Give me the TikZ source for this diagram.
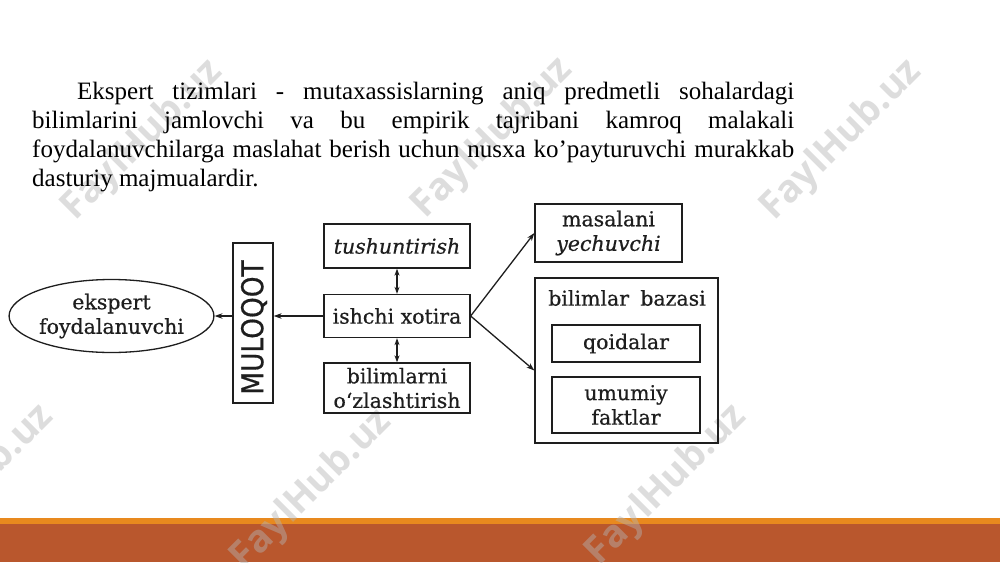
\documentclass[tikz,border=0pt]{standalone}
\usepackage{fontspec}
\setmainfont{Liberation Serif}
\newfontfamily\dgfont{DejaVu Serif}[FakeBold=0.6]
\newfontfamily\sgfont{DejaVu Sans}[FakeBold=0.6]
\newfontfamily\wmfont{Open Sans}
\usetikzlibrary{arrows.meta,shapes.geometric,calc}
\definecolor{barorange}{RGB}{232,137,30}
\definecolor{barrust}{RGB}{185,87,45}
\definecolor{ink}{RGB}{30,30,30}
\definecolor{wmgray}{RGB}{180,180,180}
\begin{document}
\begin{tikzpicture}[x=1pt,y=-1pt,
  dg/.style={font=\dgfont\fontsize{20.5}{24.5}\selectfont, text=ink},
  dgi/.style={font=\dgfont\itshape\fontsize{20.5}{24.5}\selectfont, text=ink},
  box/.style={draw=ink, line width=1.3pt, inner sep=0pt, align=center},
  arr/.style={draw=ink, line width=1.3pt, -{Stealth[length=8pt,width=5.5pt]}},
  darr/.style={draw=ink, line width=1.3pt, {Stealth[length=7pt,width=5pt]}-{Stealth[length=7pt,width=5pt]}},
  para/.style={anchor=base west, inner sep=0pt, font=\fontsize{25}{29}\selectfont, text=black},
  wm/.style={rotate=45, text=wmgray, opacity=0.45, font=\wmfont\bfseries\fontsize{38}{38}\selectfont, inner sep=0pt}]
\useasboundingbox (0,0) rectangle (1000,562);
\fill[white] (0,0) rectangle (1000,562);
% bottom bar
\fill[barorange] (0,518) rectangle (1000,524.5);
\fill[barrust] (0,524) rectangle (1000,562);
% watermarks
\node[wm] (wm1) at (143,140) {FaylHub.uz};
\node[wm] (wm2) at (493,138) {FaylHub.uz};
\node[wm] (wm3) at (842,140) {FaylHub.uz};
\node[wm] (wm4) at (-26,485) {FaylHub.uz};
\node[wm] (wm5) at (312,490) {FaylHub.uz};
\node[wm] (wm6) at (667,485) {FaylHub.uz};
% paragraph
\node[para] (p1) at (77,99.5) {\makebox[717pt][s]{Ekspert tizimlari - mutaxassislarning aniq predmetli sohalardagi}};
\node[para] (p2) at (32,128) {\makebox[762pt][s]{bilimlarini jamlovchi va bu empirik tajribani kamroq malakali}};
\node[para] (p3) at (32,157) {\makebox[762pt][s]{foydalanuvchilarga maslahat berish uchun nusxa ko’payturuvchi murakkab}};
\node[para] (p4) at (32,186) {dasturiy majmualardir.};
% diagram
\node[box, dg, shape=ellipse, minimum width=177pt, minimum height=73pt] (ell) at (111.5,316) {ekspert\\foydalanuvchi};
\node[box, minimum width=40pt, minimum height=160pt] (mul) at (253,323) {};
\node[rotate=90, inner sep=0pt, text=ink, font=\sgfont\fontsize{30}{30}\selectfont] (mult) at (254,327.5) {\scalebox{0.88}[1]{MULOQOT}};
\node[box, dgi, minimum width=146pt, minimum height=44pt] (tush) at (397,246) {tushuntirish};
\node[box, dg, minimum width=146pt, minimum height=43pt] (ish) at (397,316) {ishchi xotira};
\node[box, dg, minimum width=146pt, minimum height=50pt] (bil) at (397,388) {bilimlarni\\o‘zlashtirish};
\node[box, dg, minimum width=147pt, minimum height=58pt] (mas) at (608.5,233) {masalani\\\textit{yechuvchi}};
\node[box, minimum width=183pt, minimum height=165pt] (baz) at (626.5,360.5) {};
\node[dg, inner sep=0pt] (bazt) at (627,298) {bilimlar\hspace{0.55em}bazasi};
\node[box, dg, minimum width=148pt, minimum height=37pt] (qoi) at (626,343.5) {qoidalar};
\node[box, dg, minimum width=148pt, minimum height=56pt] (umu) at (626,405) {umumiy\\faktlar};
% connectors
\draw[arr] (ish.west) -- (ish.west -| mul.east);
\draw[arr] (mul.west |- ell.east) -- (ell.east);
\draw[darr] (tush.south) -- (ish.north);
\draw[darr] (ish.south) -- (bil.north);
\draw[arr] (ish.east) -- (mas.west);
\draw[arr] (ish.east) -- ([yshift=-10pt]baz.west);
\end{tikzpicture}
\end{document}
